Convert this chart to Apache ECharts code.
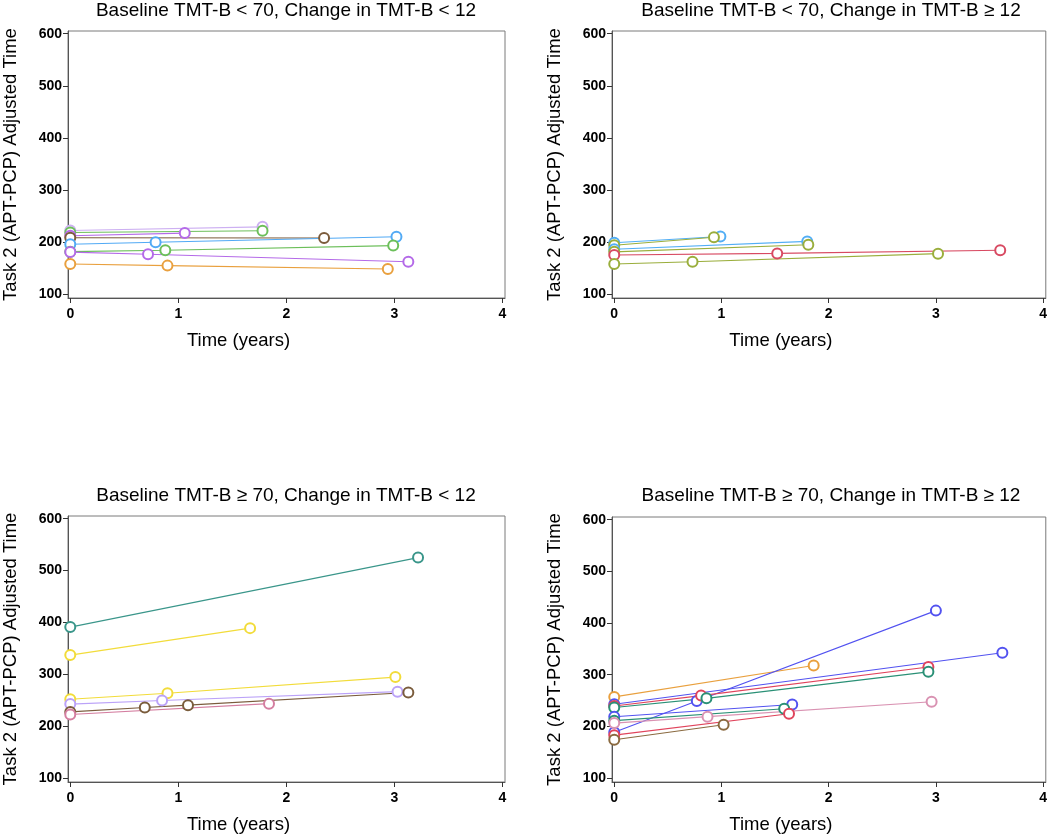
<!DOCTYPE html>
<html>
<head>
<meta charset="utf-8">
<script src="https://cdn.jsdelivr.net/npm/echarts@6/dist/echarts.min.js"></script>
<style>
  html, body { margin: 0; padding: 0; background: #fff; }
  #chart { width: 1050px; height: 835px; }
</style>
</head>
<body>
<div id="chart"></div>
<script>
// ---------- Data ----------
const panelTitles = [
  'Baseline TMT-B < 70, Change in TMT-B < 12',
  'Baseline TMT-B < 70, Change in TMT-B \u2265 12',
  'Baseline TMT-B \u2265 70, Change in TMT-B < 12',
  'Baseline TMT-B \u2265 70, Change in TMT-B \u2265 12'
];
const yAxisTitle = 'Task 2 (APT-PCP) Adjusted Time';
const xAxisTitle = 'Time (years)';
const xTicks = [0, 1, 2, 3, 4];
const yTicks = [100, 200, 300, 400, 500, 600];

// Panel 1: Baseline < 70, Change < 12  (one entry per subject)
const p1Times  = [[0, 1.78], [0, 1.78], [0, 1.06], [0, 2.35], [0, 0.79, 3.02], [0, 0.88, 2.99], [0, 0.72, 3.13], [0, 0.90, 2.94]];
const p1Values = [[222, 229], [218, 221.5], [212, 217], [208, 207.5], [195.5, 199.3, 210], [181.3, 184, 193], [180.5, 176.2, 162], [157.5, 154.5, 148]];

// Panel 2: Baseline < 70, Change >= 12
const p2Times  = [[0, 0.99], [0, 0.93], [0, 1.80], [0, 1.81], [0, 1.52, 3.60], [0, 0.73, 3.02]];
const p2Values = [[198.5, 210.5], [193.5, 209], [186, 201], [181, 194.5], [175, 178, 184], [157.5, 162, 177.5]];

// Panel 3: Baseline >= 70, Change < 12
const p3Times  = [[0, 3.22], [0, 1.665], [0, 0.90, 3.01], [0, 0.85, 3.03], [0, 0.69, 1.09, 3.13], [0, 1.84]];
const p3Values = [[391, 525], [337, 389], [252, 263.5, 294.6], [242.5, 249.5, 266.5], [227.5, 236, 240.5, 265], [222.5, 243.4]];

// Panel 4: Baseline >= 70, Change >= 12
const p4Times  = [[0, 1.86], [0, 0.77, 3.00], [0, 3.62], [0, 0.81, 2.93], [0, 0.86, 2.93], [0, 1.66], [0, 1.585], [0, 0.87, 2.96], [0, 1.63], [0, 1.02]];
const p4Values = [[257, 317.7], [188.4, 249, 424], [242.7, 342.6], [239.5, 259.5, 315], [236.4, 254.2, 305.5], [218.5, 242.2], [211, 234.2], [206.3, 218.8, 247.5], [183, 224.5], [174.2, 203]];

// ---------- Styles ----------
const p1Colors = ['#CDB0F2', '#6CBF5A', '#B46AE8', '#7B5B3B', '#52AAF5', '#6CBF5A', '#B46AE8', '#E9A03E'];
const p2Colors = ['#52AEF5', '#9AAE3C', '#52AEF5', '#9AAE3C', '#D84A62', '#9AAE3C'];
const p3Colors = ['#3A968A', '#F2DC3A', '#F2DC3A', '#BBA2F8', '#7A5C3C', '#D47EA0'];
const p4Colors = ['#E9A03E', '#5252F0', '#5252F0', '#E0445C', '#2A9076', '#5252F0', '#2A9076', '#D992B2', '#E0445C', '#8A6A40'];

const panels = [
  { times: p1Times, values: p1Values, colors: p1Colors },
  { times: p2Times, values: p2Values, colors: p2Colors },
  { times: p3Times, values: p3Values, colors: p3Colors },
  { times: p4Times, values: p4Values, colors: p4Colors }
];

const FONT = '"Liberation Sans", Arial, sans-serif';
const grids = [
  { left: 67,  top: 31,  width: 438, height: 267 },
  { left: 612, top: 31,  width: 437, height: 267 },
  { left: 67,  top: 516, width: 438, height: 267 },
  { left: 612, top: 517, width: 437, height: 266 }
];
const titlePos = [
  { x: 281, y: -4 },
  { x: 826, y: -4 },
  { x: 281, y: 481 },
  { x: 826, y: 481 }
];

const option = {
  animation: false,
  backgroundColor: '#fff',
  title: panelTitles.map((t, i) => ({
    text: t,
    left: titlePos[i].x,
    top: titlePos[i].y,
    textAlign: 'center',
    textStyle: { fontFamily: FONT, fontSize: 19, fontWeight: 'normal', color: '#000' }
  })),
  grid: grids.map(g => Object.assign({
    show: true, borderColor: '#7a7a7a', borderWidth: 1, backgroundColor: 'transparent'
  }, g)),
  xAxis: grids.map((g, i) => ({
    type: 'value',
    gridIndex: i,
    min: -0.021,
    max: 4.025,
    name: xAxisTitle,
    nameLocation: 'middle',
    nameGap: 33,
    nameTextStyle: { fontFamily: FONT, fontSize: 18.5, color: '#000', padding: [0, 96, 0, 0] },
    splitLine: { show: false },
    axisLine: { show: true, onZero: false, lineStyle: { color: '#555', width: 1 } },
    axisTick: { show: true, length: 5, customValues: xTicks, lineStyle: { color: '#333' } },
    axisLabel: { customValues: xTicks, margin: 9, fontFamily: FONT, fontSize: 14, fontWeight: 'bold', color: '#000' }
  })),
  yAxis: grids.map((g, i) => ({
    type: 'value',
    gridIndex: i,
    min: 92.3,
    max: 605.2,
    name: yAxisTitle,
    nameLocation: 'middle',
    nameGap: 48,
    nameTextStyle: { fontFamily: FONT, fontSize: 18.5, color: '#000' },
    splitLine: { show: false },
    axisLine: { show: true, onZero: false, lineStyle: { color: '#555', width: 1 } },
    axisTick: { show: true, length: 5, customValues: yTicks, lineStyle: { color: '#333' } },
    axisLabel: { customValues: yTicks, margin: 6, fontFamily: FONT, fontSize: 14, fontWeight: 'bold', color: '#000' }
  })),
  series: []
};

panels.forEach((p, pi) => {
  p.times.forEach((ts, si) => {
    option.series.push({
      type: 'line',
      xAxisIndex: pi,
      yAxisIndex: pi,
      data: ts.map((t, k) => [t, p.values[si][k]]),
      symbol: 'emptyCircle',
      symbolSize: 10,
      showSymbol: true,
      lineStyle: { color: p.colors[si], width: 1.1 },
      itemStyle: { color: p.colors[si], borderColor: p.colors[si], borderWidth: 1 },
      z: 2
    });
  });
});

const chart = echarts.init(document.getElementById('chart'), null, { renderer: 'canvas' });
chart.setOption(option);
</script>
</body>
</html>
